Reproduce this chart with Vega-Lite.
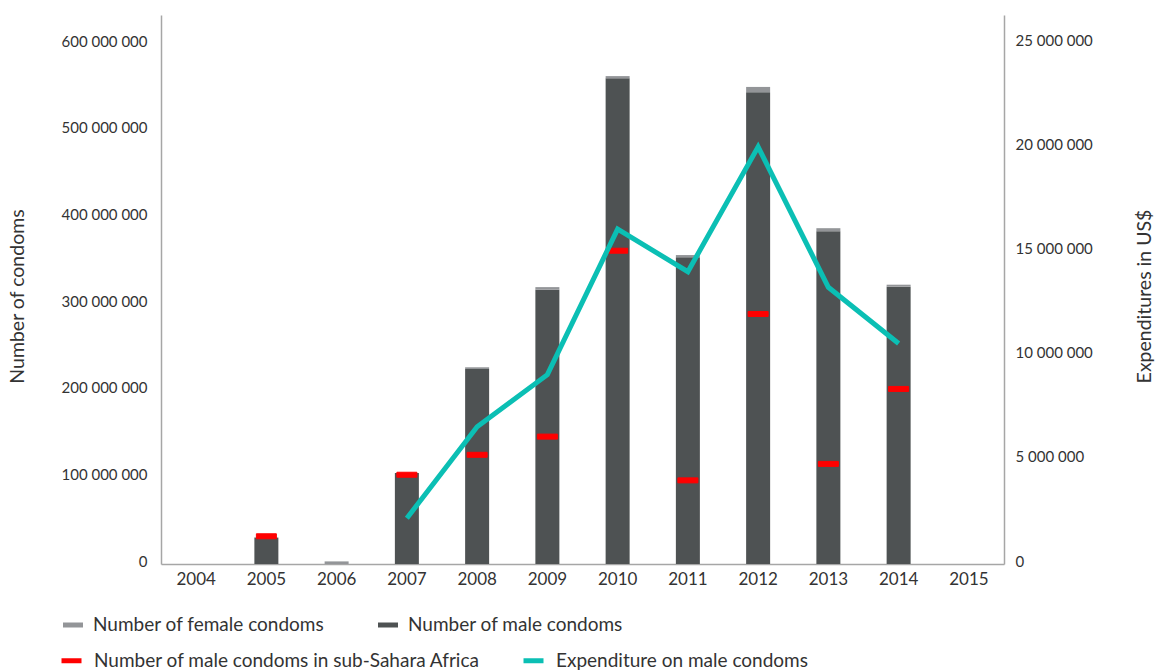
{
  "$schema": "https://vega.github.io/schema/vega-lite/v6.json",
  "width": 843,
  "height": 549,
  "autosize": "none",
  "padding": {"left": 161, "top": 15, "right": 151, "bottom": 108},
  "config": {
    "view": {"stroke": null},
    "font": "Lato",
    "axis": {
      "labelFont": "Lato",
      "titleFont": "Lato",
      "labelColor": "#333333",
      "titleColor": "#333333",
      "titleFontWeight": "normal",
      "domainColor": "#A6A6A6",
      "domainWidth": 1.5,
      "ticks": false,
      "grid": false
    },
    "legend": {"labelFont": "Lato", "labelColor": "#333333", "padding": 0, "labelLimit": 600}
  },
  "datasets": {
    "bars": [
      {"year": 2005, "series": "Number of male condoms", "value": 30500000},
      {"year": 2006, "series": "Number of female condoms", "value": 3000000},
      {"year": 2007, "series": "Number of male condoms", "value": 105000000},
      {"year": 2008, "series": "Number of male condoms", "value": 225000000},
      {"year": 2008, "series": "Number of female condoms", "value": 2000000},
      {"year": 2009, "series": "Number of male condoms", "value": 316500000},
      {"year": 2009, "series": "Number of female condoms", "value": 3000000},
      {"year": 2010, "series": "Number of male condoms", "value": 560500000},
      {"year": 2010, "series": "Number of female condoms", "value": 2500000},
      {"year": 2011, "series": "Number of male condoms", "value": 354000000},
      {"year": 2011, "series": "Number of female condoms", "value": 2500000},
      {"year": 2012, "series": "Number of male condoms", "value": 544500000},
      {"year": 2012, "series": "Number of female condoms", "value": 6000000},
      {"year": 2013, "series": "Number of male condoms", "value": 384000000},
      {"year": 2013, "series": "Number of female condoms", "value": 3500000},
      {"year": 2014, "series": "Number of male condoms", "value": 320000000},
      {"year": 2014, "series": "Number of female condoms", "value": 2300000}
    ],
    "ssa": [
      {"year": 2005, "series": "Number of male condoms in sub-Sahara Africa", "value": 32000000},
      {"year": 2007, "series": "Number of male condoms in sub-Sahara Africa", "value": 103000000},
      {"year": 2008, "series": "Number of male condoms in sub-Sahara Africa", "value": 126000000},
      {"year": 2009, "series": "Number of male condoms in sub-Sahara Africa", "value": 147000000},
      {"year": 2010, "series": "Number of male condoms in sub-Sahara Africa", "value": 361500000},
      {"year": 2011, "series": "Number of male condoms in sub-Sahara Africa", "value": 96500000},
      {"year": 2012, "series": "Number of male condoms in sub-Sahara Africa", "value": 288500000},
      {"year": 2013, "series": "Number of male condoms in sub-Sahara Africa", "value": 115500000},
      {"year": 2014, "series": "Number of male condoms in sub-Sahara Africa", "value": 202000000}
    ],
    "exp": [
      {"year": 2007, "series": "Expenditure on male condoms", "exp": 2200000},
      {"year": 2008, "series": "Expenditure on male condoms", "exp": 6600000},
      {"year": 2009, "series": "Expenditure on male condoms", "exp": 9100000},
      {"year": 2010, "series": "Expenditure on male condoms", "exp": 16100000},
      {"year": 2011, "series": "Expenditure on male condoms", "exp": 14050000},
      {"year": 2012, "series": "Expenditure on male condoms", "exp": 20050000},
      {"year": 2013, "series": "Expenditure on male condoms", "exp": 13300000},
      {"year": 2014, "series": "Expenditure on male condoms", "exp": 10600000}
    ]
  },
  "encoding": {
    "x": {
      "field": "year",
      "type": "ordinal",
      "scale": {"domain": [2004, 2005, 2006, 2007, 2008, 2009, 2010, 2011, 2012, 2013, 2014, 2015], "paddingInner": 0, "paddingOuter": 0},
      "axis": {"title": null, "labelAngle": 0, "labelFontSize": 17, "labelPadding": 7}
    }
  },
  "layer": [
    {
      "layer": [
        {
          "data": {"name": "bars"},
          "mark": {"type": "bar", "size": 24},
          "encoding": {
            "y": {
              "field": "value",
              "type": "quantitative",
              "stack": "zero",
              "scale": {"domain": [0, 633500000], "nice": false, "zero": true},
              "axis": {
                "title": "Number of condoms",
                "titleFontSize": 19.5,
                "titleAngle": 270,
                "titleX": -144,
                "titleY": 281,
                "titleAlign": "center",
                "titleBaseline": "middle",
                "values": [0, 100000000, 200000000, 300000000, 400000000, 500000000, 600000000],
                "labelExpr": "join(split(format(datum.value, ',d'), ','), ' ')",
                "labelFontSize": 15,
                "labelPadding": 14,
                "labelOffset": -3
              }
            },
            "fill": {
              "field": "series",
              "type": "nominal",
              "scale": {"domain": ["Number of female condoms", "Number of male condoms"], "range": ["#939598", "#4E5253"]},
              "legend": {
                "orient": "none",
                "legendX": -98,
                "legendY": 600,
                "direction": "horizontal",
                "title": null,
                "symbolType": "M-1,-0.25H1V0.25H-1Z",
                "symbolSize": 400,
                "symbolStrokeWidth": 0,
                "symbolOpacity": 1,
                "labelFontSize": 19,
                "labelOffset": 10,
                "columnPadding": 53
              }
            },
            "order": {"field": "series", "sort": "descending"}
          }
        },
        {
          "data": {"name": "ssa"},
          "mark": {"type": "tick", "thickness": 5, "size": 20, "fill": "#FF0000", "strokeWidth": 1, "opacity": 1},
          "encoding": {
            "y": {"field": "value", "type": "quantitative"},
            "stroke": {
              "field": "series",
              "type": "nominal",
              "scale": {"domain": ["Number of male condoms in sub-Sahara Africa", "Expenditure on male condoms"], "range": ["#FF0000", "#0BBFB4"]},
              "legend": {
                "orient": "none",
                "legendX": -102,
                "legendY": 633,
                "direction": "horizontal",
                "title": null,
                "symbolType": "stroke",
                "symbolSize": 400,
                "symbolStrokeWidth": 5,
                "symbolOpacity": 1,
                "labelFontSize": 19,
                "labelOffset": 10,
                "columnPadding": 32
              }
            }
          }
        }
      ]
    },
    {
      "data": {"name": "exp"},
      "mark": {"type": "line", "strokeWidth": 5},
      "encoding": {
        "y": {
          "field": "exp",
          "type": "quantitative",
          "scale": {"domain": [0, 26390000], "nice": false, "zero": true},
          "axis": {
            "orient": "right",
            "title": "Expenditures in US$",
            "titleFontSize": 19.5,
            "titleAngle": 270,
            "titleX": 140,
            "titleY": 281,
            "titleAlign": "center",
            "titleBaseline": "middle",
            "values": [0, 5000000, 10000000, 15000000, 20000000, 25000000],
            "labelExpr": "join(split(format(datum.value, ',d'), ','), ' ')",
            "labelFontSize": 15,
            "labelPadding": 11,
            "labelOffset": -3
          }
        },
        "stroke": {"field": "series", "type": "nominal"}
      }
    }
  ],
  "resolve": {"scale": {"y": "independent"}}
}
